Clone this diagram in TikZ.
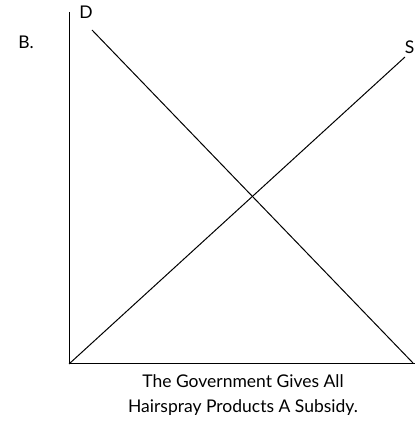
\documentclass[tikz,border=0pt]{standalone}
\usepackage{fontspec}
\setmainfont{Lato}
\usetikzlibrary{positioning}

\begin{document}
\begin{tikzpicture}[x=1pt, y=1pt, every node/.style={font=\fontsize{17.5}{21}\selectfont, inner sep=0pt},
  ax/.style={line width=1pt},
  crv/.style={line width=1pt}]
\useasboundingbox (0,0) rectangle (415,433);
% Axes
\coordinate (orig) at (69,69);
\coordinate (ytop) at (69,421);
\coordinate (xend) at (415,69);
\draw[ax] (ytop) -- (orig) -- (xend);
% Curves
\coordinate (dtop) at (92,403);
\coordinate (dend) at (413,70);
\coordinate (send) at (405,376);
\draw[crv] (dtop) -- (dend);
\draw[crv] (orig) -- (send);
% Labels
\node (lblb) at (26,391) {B.};
\node (lbld) at (86,421) {D};
\node[anchor=east] (lbls) at (414.5,386) {S};
\node[align=center, font=\fontsize{17.5}{25}\selectfont] (caption) at (243,38) {The Government Gives All\\Hairspray Products A Subsidy.};
\end{tikzpicture}
\end{document}
